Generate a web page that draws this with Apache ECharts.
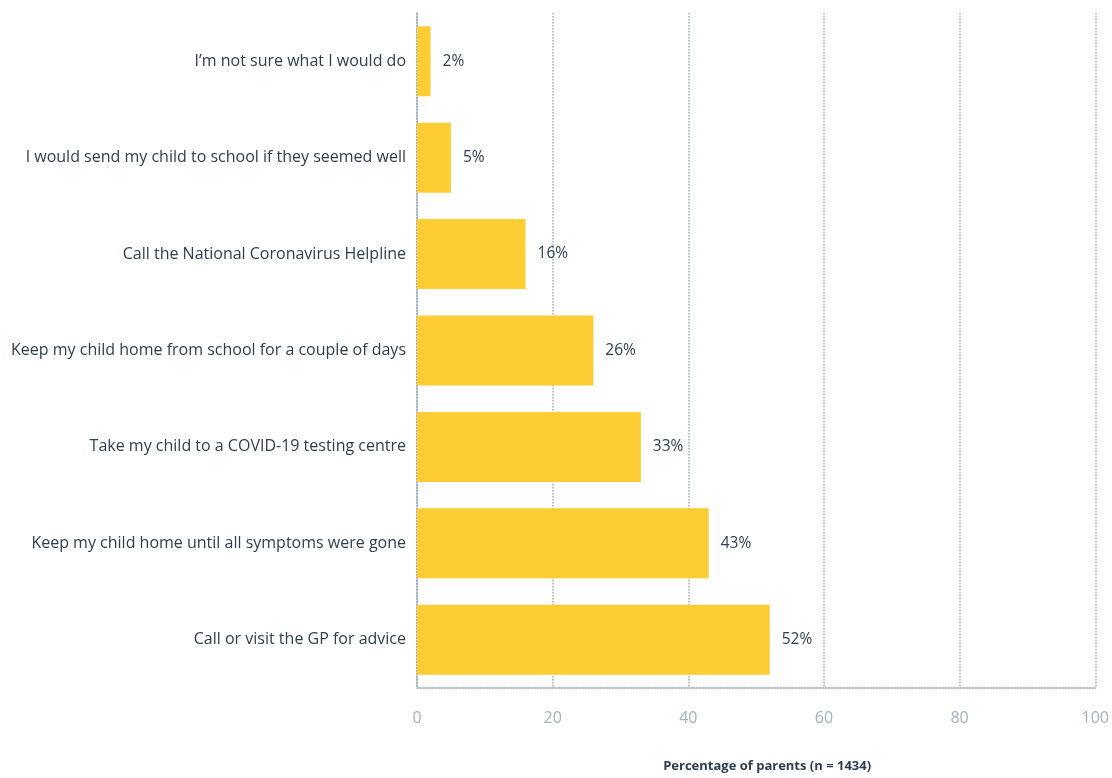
<!DOCTYPE html>
<html><head><meta charset="utf-8">
<script src="https://cdn.jsdelivr.net/npm/echarts@6/dist/echarts.min.js"></script>
<style>html,body{margin:0;padding:0;background:#fff}#c{width:1112px;height:778px}</style>
</head><body><div id="c"></div>
<script>
const categories = [
  "I\u2019m not sure what I would do",
  "I would send my child to school if they seemed well",
  "Call the National Coronavirus Helpline",
  "Keep my child home from school for a couple of days",
  "Take my child to a COVID-19 testing centre",
  "Keep my child home until all symptoms were gone",
  "Call or visit the GP for advice"
];
const values = [2, 5, 16, 26, 33, 43, 52];
const xTicks = [0, 20, 40, 60, 80, 100];
const axisTitle = "Percentage of parents (n = 1434)";

const chart = echarts.init(document.getElementById('c'));
const font = '"Open Sans", Lato, sans-serif';
chart.setOption({
  animation: false,
  grid: { left: 417, right: 16, top: 13, bottom: 78, containLabel: false },
  xAxis: {
    type: 'value', min: xTicks[0], max: xTicks[xTicks.length-1], interval: 20,
    name: axisTitle, nameLocation: 'middle', nameGap: 72,
    nameTextStyle: { color: '#2d3e50', fontSize: 13, fontWeight: 'bold', fontFamily: font, padding: [0,0,0,22] },
    axisLine: { show: true, lineStyle: { color: '#9aabb9', type: 'dotted', width: 1.5 } },
    axisTick: { show: false },
    axisLabel: { color: '#a3b2bf', fontSize: 16, fontFamily: font, margin: 22 },
    splitLine: { show: true, lineStyle: { color: '#9aabb9', type: 'dotted', width: 1.5 } }
  },
  yAxis: {
    type: 'category', data: categories, inverse: true,
    axisLine: { show: true, lineStyle: { color: '#9aabb9', type: 'dotted', width: 1.5 } },
    axisTick: { show: false },
    axisLabel: { color: '#2d3e50', fontSize: 16, fontFamily: font, margin: 11 }
  },
  series: [{
    type: 'bar', data: values, barWidth: 70,
    itemStyle: { color: '#fecc33' },
    label: { show: true, position: 'right', distance: 12, formatter: '{c}%', color: '#2d3e50', fontSize: 15.5, fontFamily: font }
  }]
});
</script></body></html>
